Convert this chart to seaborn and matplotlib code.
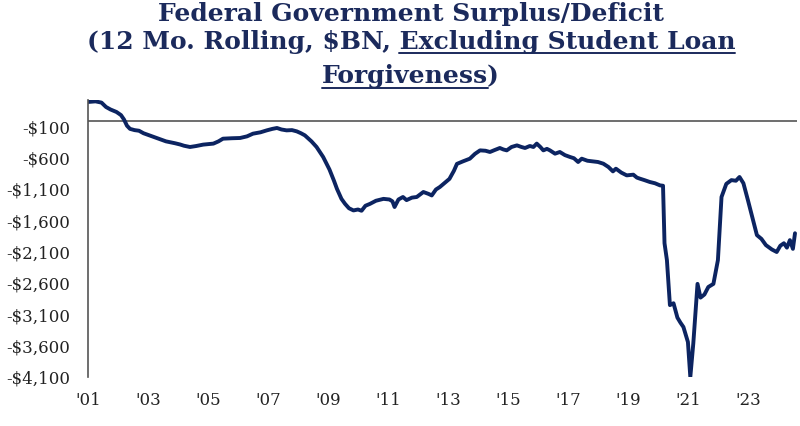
import pandas as pd
import matplotlib.pyplot as plt
import seaborn as sns
from matplotlib.lines import Line2D

# 12 month rolling surplus/deficit, $BN
years = [
    2001.00, 2001.25, 2001.45, 2001.60, 2001.75, 2001.95, 2002.10, 2002.20, 2002.30, 2002.40,
    2002.55, 2002.70, 2002.85, 2003.05, 2003.30, 2003.60, 2003.90, 2004.07, 2004.20, 2004.40,
    2004.60, 2004.84, 2005.00, 2005.18, 2005.35, 2005.50, 2005.80, 2006.07, 2006.30, 2006.50,
    2006.75, 2006.96, 2007.15, 2007.30, 2007.45, 2007.62, 2007.80, 2007.96, 2008.10, 2008.23,
    2008.45, 2008.62, 2008.84, 2009.05, 2009.20, 2009.30, 2009.45, 2009.57, 2009.70, 2009.85,
    2010.00, 2010.12, 2010.25, 2010.40, 2010.60, 2010.85, 2011.05, 2011.15, 2011.22, 2011.35,
    2011.50, 2011.62, 2011.80, 2011.96, 2012.18, 2012.35, 2012.46, 2012.60, 2012.73, 2012.90,
    2013.05, 2013.20, 2013.30, 2013.50, 2013.73, 2013.90, 2014.07, 2014.25, 2014.40, 2014.55,
    2014.73, 2014.85, 2014.96, 2015.12, 2015.30, 2015.45, 2015.57, 2015.73, 2015.85, 2015.96,
    2016.08, 2016.18, 2016.30, 2016.40, 2016.57, 2016.73, 2016.90, 2017.07, 2017.20, 2017.34,
    2017.46, 2017.65, 2017.84, 2018.00, 2018.18, 2018.35, 2018.50, 2018.60, 2018.78, 2018.96,
    2019.18, 2019.30, 2019.40, 2019.55, 2019.73, 2019.90, 2020.07, 2020.17, 2020.22, 2020.30,
    2020.40, 2020.52, 2020.65, 2020.75, 2020.85, 2021.00, 2021.08, 2021.18, 2021.32, 2021.42,
    2021.55, 2021.68, 2021.85, 2022.00, 2022.12, 2022.28, 2022.45, 2022.60, 2022.72, 2022.85,
    2023.00, 2023.15, 2023.30, 2023.45, 2023.60, 2023.80, 2023.96, 2024.08, 2024.20, 2024.30,
    2024.40, 2024.50, 2024.57,
]
deficit = [
    300, 310, 290, 220, 180, 140, 90, 20, -80, -130,
    -150, -160, -200, -235, -280, -330, -360, -380, -400, -420,
    -405, -382, -375, -366, -330, -287, -280, -276, -250, -207,
    -185, -154, -130, -116, -140, -154, -150, -170, -200, -234,
    -330, -420, -580, -780, -960, -1090, -1250, -1330, -1400, -1435,
    -1420, -1440, -1360, -1330, -1280, -1250, -1260, -1290, -1380, -1260,
    -1220, -1270, -1230, -1220, -1140, -1170, -1195, -1100, -1060, -990,
    -930, -800, -690, -650, -607, -530, -474, -480, -500, -470,
    -436, -460, -474, -420, -394, -420, -436, -404, -420, -366,
    -420, -474, -450, -474, -527, -500, -550, -580, -600, -660,
    -607, -640, -650, -660, -687, -740, -810, -767, -830, -874,
    -863, -910, -927, -950, -980, -1000, -1034, -1040, -1960, -2230,
    -2950, -2920, -3150, -3230, -3300, -3540, -4100, -3560, -2610, -2830,
    -2780, -2660, -2610, -2230, -1220, -1010, -950, -960, -900, -1000,
    -1270, -1550, -1830, -1890, -1990, -2060, -2100, -2000, -1960, -2030,
    -1910, -2050, -1800,
]
ytick_vals = [-100, -600, -1100, -1600, -2100, -2600, -3100, -3600, -4100]
xtick_years = list(range(2001, 2024, 2))
xtick_labels = ["'" + str(y)[2:] for y in xtick_years]

navy = '#0c2461'
title_col = '#1b2a5c'
grey = '#555555'

sns.set_style('white')
plt.rcParams['font.family'] = ['DejaVu Serif']

df = pd.DataFrame({'year': years, 'deficit': deficit})

fig = plt.figure(figsize=(8, 4.26), dpi=100)
ax = fig.add_axes([0.11, 0.115, 0.886, 0.65])
sns.lineplot(data=df, x='year', y='deficit', ax=ax, color=navy, linewidth=2.8)

ax.axhline(0, color=grey, linewidth=1.2, zorder=1)
ax.set_xlim(2001.0, 2024.63)
ax.set_ylim(-4100, 330)
ax.set_yticks(ytick_vals)
ax.set_yticklabels(['-\\$' + f'{abs(v):,}' for v in ytick_vals])
ax.set_xticks(xtick_years)
ax.set_xticklabels(xtick_labels)
ax.tick_params(axis='both', length=0, labelsize=12, colors='#222222')
ax.tick_params(axis='y', pad=13)
ax.tick_params(axis='x', pad=11)
ax.set_xlabel('')
ax.set_ylabel('')
for s in ['top', 'right', 'bottom']:
    ax.spines[s].set_visible(False)
ax.spines['left'].set_color(grey)
ax.spines['left'].set_linewidth(1.2)

# title, three lines, parts underlined
tkw = dict(ha='center', va='baseline', fontsize=18, fontweight='bold',
           color=title_col, family='DejaVu Serif')
cx = 411 / 800
fig.text(cx, 1 - 21 / 426, 'Federal Government Surplus/Deficit', **tkw)
t2 = fig.text(cx, 1 - 48.5 / 426, '(12 Mo. Rolling, \\$BN, Excluding Student Loan', **tkw)
t3 = fig.text(cx, 1 - 83 / 426, 'Forgiveness)', **tkw)

fig.canvas.draw()
r = fig.canvas.get_renderer()
tmp = fig.text(0, 0, 'Excluding Student Loan', **tkw)
w_ul = tmp.get_window_extent(r).width
tmp.set_text(')')
w_par = tmp.get_window_extent(r).width
tmp.remove()
b2 = t2.get_window_extent(r)
b3 = t3.get_window_extent(r)
W, H = fig.bbox.width, fig.bbox.height
fig.add_artist(Line2D([(b2.x1 - w_ul) / W, b2.x1 / W], [1 - 53 / 426] * 2,
                      color=title_col, linewidth=1.4, transform=fig.transFigure))
fig.add_artist(Line2D([b3.x0 / W, (b3.x1 - w_par) / W], [1 - 87.5 / 426] * 2,
                      color=title_col, linewidth=1.4, transform=fig.transFigure))

fig.savefig('out.png', dpi=100)
